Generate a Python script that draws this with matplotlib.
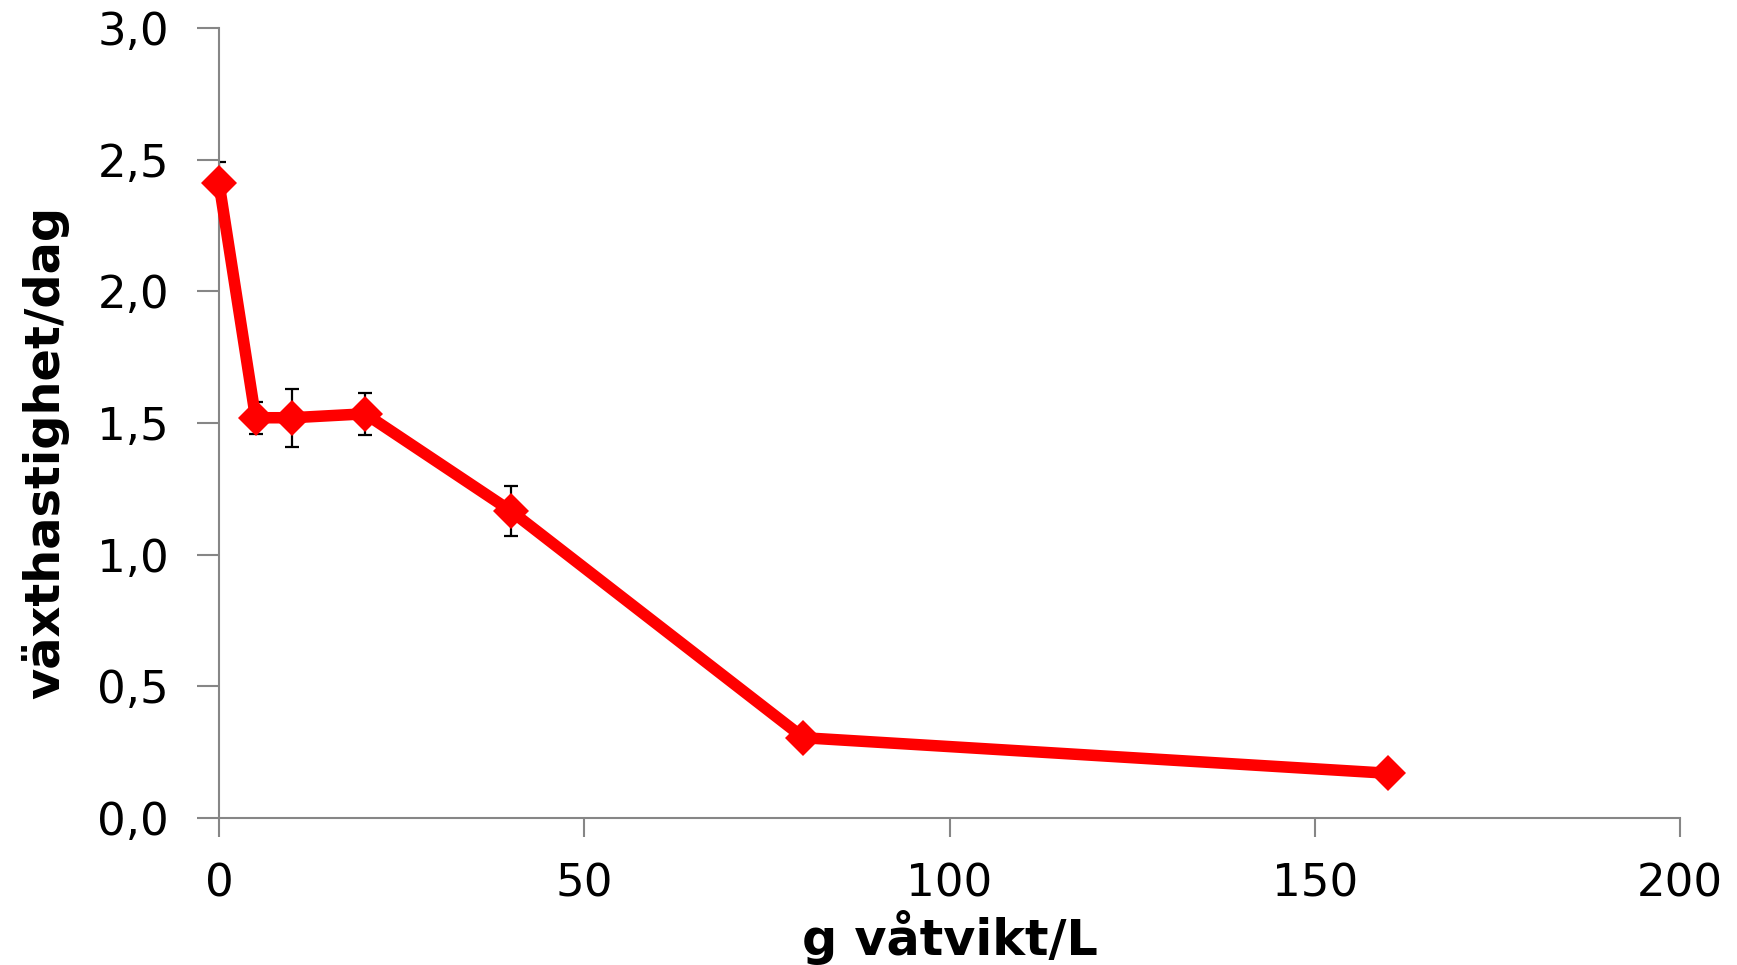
import matplotlib
matplotlib.use("Agg")
import matplotlib.pyplot as plt
from matplotlib.ticker import FuncFormatter

# growth rate vs wet weight concentration
conc = [0, 5, 10, 20, 40, 80, 160]
rate = [2.41, 1.52, 1.52, 1.535, 1.165, 0.305, 0.17]
err = [0.08, 0.06, 0.11, 0.08, 0.095, 0.0, 0.0]

x_ticks = [0, 50, 100, 150, 200]
y_ticks = [0.0, 0.5, 1.0, 1.5, 2.0, 2.5, 3.0]

plt.rcParams["font.family"] = ["DejaVu Sans"]

fig = plt.figure(figsize=(17.37, 9.65), dpi=100)
ax = fig.add_axes([0.1261, 0.1523, 0.8411, 0.8187])

# error bars sit under the line and markers
ax.errorbar(conc, rate, yerr=err, fmt="none", ecolor="black",
            elinewidth=1.6, capsize=5, capthick=1.6, zorder=2)
ax.plot(conc, rate, color="#ff0000", linewidth=8.3, marker="D",
        markersize=18, markeredgewidth=0, zorder=3, clip_on=False)

ax.set_xlim(0, 200)
ax.set_ylim(0, 3.0)
ax.set_xticks(x_ticks)
ax.set_yticks(y_ticks)
ax.yaxis.set_major_formatter(FuncFormatter(lambda v, p: f"{v:.1f}".replace(".", ",")))

for side in ["top", "right"]:
    ax.spines[side].set_visible(False)
for side in ["left", "bottom"]:
    ax.spines[side].set_color("#868686")
    ax.spines[side].set_linewidth(1.5)

ax.tick_params(axis="y", direction="out", length=16, width=1.5, color="#868686",
               labelsize=32.5, pad=20)
ax.tick_params(axis="x", direction="out", length=14, width=1.5, color="#868686",
               labelsize=32.5, pad=18)

fig.text(0.026, 0.531, "växthastighet/dag", rotation=90, fontsize=34.5,
         fontweight="bold", ha="center", va="center")
fig.text(0.547, 0.0104, "g våtvikt/L", fontsize=35.5, fontweight="bold",
         ha="center", va="baseline")

fig.savefig("out.png", dpi=100)
